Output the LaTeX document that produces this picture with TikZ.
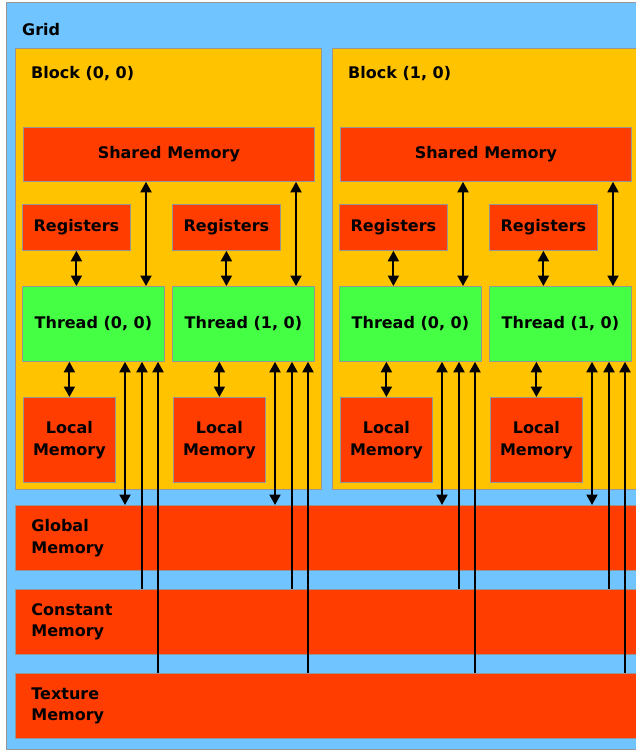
\documentclass[tikz,border=0pt]{standalone}
\usepackage{fontspec}
\setmainfont{DejaVu Sans}
\usetikzlibrary{arrows.meta}
\definecolor{gridblue}{RGB}{112,196,255}
\definecolor{blockyellow}{RGB}{255,195,0}
\definecolor{memred}{RGB}{255,61,0}
\definecolor{thrgreen}{RGB}{68,255,68}
\definecolor{edgegray}{RGB}{150,150,150}
\begin{document}
\begin{tikzpicture}[x=1pt,y=-1pt,
  font=\bfseries\fontsize{16}{21.5}\selectfont,
  boxbase/.style={draw=edgegray, line width=0.8pt, inner sep=0pt, anchor=north west, align=center},
  gridbox/.style={boxbase, fill=gridblue},
  blockbox/.style={boxbase, fill=blockyellow},
  membox/.style={boxbase, fill=memred},
  thrbox/.style={boxbase, fill=thrgreen},
  barbox/.style={boxbase, fill=memred, align=left, text width=614pt, inner xsep=16pt, minimum width=646pt, minimum height=65pt},
  lbl/.style={anchor=west, inner sep=0pt},
  tipstyle/.tip={Triangle[length=10.5pt,width=11pt]},
  dbl/.style={line width=2pt, {tipstyle}-{tipstyle}},
  upar/.style={line width=2pt, {tipstyle}-},
]
\clip (0,0) rectangle (636,751);
% grid
\node[gridbox, minimum width=660pt, minimum height=747pt] (grid) at (6,2) {};
\node[lbl] (gridlbl) at (22,30) {Grid};
% memory bars
\node[barbox] (glob) at (15,505) {Global\\Memory};
\node[barbox] (cons) at (15,589) {Constant\\Memory};
\node[barbox] (tex) at (15,673) {Texture\\Memory};
% blocks
\foreach \bx/\bn/\bl in {0/b0/{(0, 0)}, 317/b1/{(1, 0)}}{
  \node[blockbox, minimum width=306pt, minimum height=441pt] (\bn) at (15+\bx,48) {};
  \node[lbl] (\bn lbl) at (31+\bx,74) {Block \bl};
  \node[membox, minimum width=291pt, minimum height=54pt] (\bn shm) at (23+\bx,127) {Shared Memory};
  \foreach \tx/\tn/\tl in {0/t0/{(0, 0)}, 150/t1/{(1, 0)}}{
    \node[membox, minimum width=108pt, minimum height=46pt] (\bn\tn reg) at (22+\bx+\tx,204) {Registers};
    \node[thrbox, minimum width=142pt, minimum height=75pt] (\bn\tn thr) at (22+\bx+\tx,286) {Thread \tl};
    \node[membox, minimum width=92pt, minimum height=85pt] (\bn\tn loc) at (23+\bx+\tx,397) {Local\\Memory};
    \coordinate (\bn\tn s) at (146+\bx+\tx,0);
    \coordinate (\bn\tn g) at (125+\bx+\tx,0);
    \coordinate (\bn\tn c) at (142+\bx+\tx,0);
    \coordinate (\bn\tn x) at (158+\bx+\tx,0);
  }
}
% arrows
\foreach \bn in {b0,b1}{
  \foreach \tn in {t0,t1}{
    \draw[dbl] (\bn\tn reg.south) -- (\bn\tn thr.north -| \bn\tn reg.south);
    \draw[dbl] (\bn\tn thr.south -| \bn\tn loc.north) -- (\bn\tn loc.north);
    \draw[dbl] (\bn shm.south -| \bn\tn s) -- (\bn\tn thr.north -| \bn\tn s);
    \draw[dbl] (\bn\tn thr.south -| \bn\tn g) -- (glob.north -| \bn\tn g);
    \draw[upar] (\bn\tn thr.south -| \bn\tn c) -- (cons.north -| \bn\tn c);
    \draw[upar] (\bn\tn thr.south -| \bn\tn x) -- (tex.north -| \bn\tn x);
  }
}
\end{tikzpicture}
\end{document}
